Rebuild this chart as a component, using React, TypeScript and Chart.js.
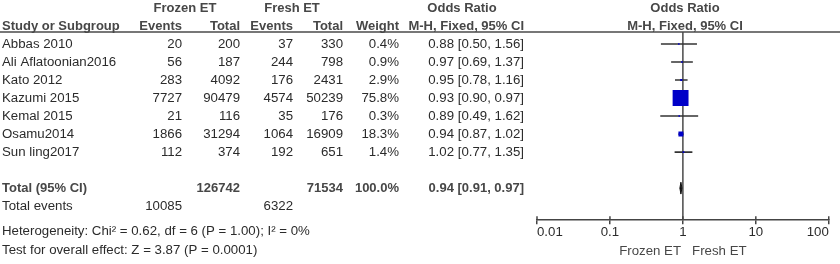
import React, { useEffect, useRef } from "react";
import { Chart, registerables } from "chart.js";

Chart.register(...registerables);

const studies = ["Abbas 2010", "Ali Aflatoonian2016", "Kato 2012", "Kazumi 2015", "Kemal 2015", "Osamu2014", "Sun ling2017"];
const frozenEvents = [20, 56, 283, 7727, 21, 1866, 112];
const frozenTotal = [200, 187, 4092, 90479, 116, 31294, 374];
const freshEvents = [37, 244, 176, 4574, 35, 1064, 192];
const freshTotal = [330, 798, 2431, 50239, 176, 16909, 651];
const weights = [0.4, 0.9, 2.9, 75.8, 0.3, 18.3, 1.4];
const oddsRatio = [0.88, 0.97, 0.95, 0.93, 0.89, 0.94, 1.02];
const ciLow = [0.5, 0.69, 0.78, 0.9, 0.49, 0.87, 0.77];
const ciHigh = [1.56, 1.37, 1.16, 0.97, 1.62, 1.02, 1.35];

const totalFrozen = 126742;
const totalFresh = 71534;
const totalWeight = "100.0%";
const totalOR = 0.94;
const totalLow = 0.91;
const totalHigh = 0.97;
const totalFrozenEvents = 10085;
const totalFreshEvents = 6322;
const heterogeneityText = "Heterogeneity: Chi² = 0.62, df = 6 (P = 1.00); I² = 0%";
const overallText = "Test for overall effect: Z = 3.87 (P = 0.0001)";
const axisTicks = [0.01, 0.1, 1, 10, 100];
const axisTitle = "Frozen ET   Fresh ET";

const FONT = '"Liberation Sans", Arial, sans-serif';
const TXT = "#2b2b2b";
const HDR = "#474747";
const SIZE = 13.25;

const Y_MIN = -0.667;
const Y_MAX = 9.78;
const TOTAL_ROW = 8;

const fmt2 = (v: number) => v.toFixed(2);
const ciText = (o: number, l: number, h: number) => `${fmt2(o)} [${fmt2(l)}, ${fmt2(h)}]`;

const tablePlugin = {
  id: "forestTable",
  afterDraw(chart: any) {
    const ctx = chart.ctx as CanvasRenderingContext2D;
    const y = chart.scales.y;
    const x = chart.scales.x;
    const py = (r: number) => y.getPixelForValue(r);
    ctx.save();
    ctx.textBaseline = "middle";
    const put = (s: string, px: number, r: number, align: CanvasTextAlign, bold = false, color = TXT) => {
      ctx.font = `${bold ? "bold " : ""}${bold ? 13 : SIZE}px ${FONT}`;
      ctx.fillStyle = color;
      ctx.textAlign = align;
      ctx.fillText(s, px, py(r));
    };
    // headers
    put("Frozen ET", 185, -2, "center", true, HDR);
    put("Fresh ET", 292, -2, "center", true, HDR);
    put("Odds Ratio", 462, -2, "center", true, HDR);
    put("Odds Ratio", 685, -2, "center", true, HDR);
    put("Study or Subgroup", 2, -1, "left", true, HDR);
    put("Events", 182, -1, "right", true, HDR);
    put("Total", 240, -1, "right", true, HDR);
    put("Events", 293, -1, "right", true, HDR);
    put("Total", 343, -1, "right", true, HDR);
    put("Weight", 399, -1, "right", true, HDR);
    put("M-H, Fixed, 95% CI", 524, -1, "right", true, HDR);
    put("M-H, Fixed, 95% CI", 685, -1, "center", true, HDR);
    // header rule
    ctx.strokeStyle = "#4a4a4a";
    ctx.lineWidth = 1.5;
    ctx.beginPath();
    ctx.moveTo(0, py(Y_MIN));
    ctx.lineTo(840, py(Y_MIN));
    ctx.stroke();
    // rows
    studies.forEach((s, i) => {
      put(s, 2, i, "left");
      put(String(frozenEvents[i]), 182, i, "right");
      put(String(frozenTotal[i]), 240, i, "right");
      put(String(freshEvents[i]), 293, i, "right");
      put(String(freshTotal[i]), 343, i, "right");
      put(weights[i].toFixed(1) + "%", 399, i, "right");
      put(ciText(oddsRatio[i], ciLow[i], ciHigh[i]), 524, i, "right");
    });
    put("Total (95% CI)", 2, TOTAL_ROW, "left", true, HDR);
    put(String(totalFrozen), 240, TOTAL_ROW, "right", true, HDR);
    put(String(totalFresh), 343, TOTAL_ROW, "right", true, HDR);
    put(totalWeight, 399, TOTAL_ROW, "right", true, HDR);
    put(ciText(totalOR, totalLow, totalHigh), 524, TOTAL_ROW, "right", true, HDR);
    put("Total events", 2, TOTAL_ROW + 1, "left");
    put(String(totalFrozenEvents), 182, TOTAL_ROW + 1, "right");
    put(String(totalFreshEvents), 293, TOTAL_ROW + 1, "right");
    put(heterogeneityText, 2, TOTAL_ROW + 2.4, "left");
    put(overallText, 2, TOTAL_ROW + 3.45, "left");
    // upper half of axis tick marks
    const base = chart.chartArea.bottom;
    ctx.strokeStyle = "#444";
    ctx.lineWidth = 1.5;
    axisTicks.forEach((t) => {
      const px = x.getPixelForValue(t);
      ctx.beginPath();
      ctx.moveTo(px, base - 4);
      ctx.lineTo(px, base);
      ctx.stroke();
    });
    ctx.restore();
  },
};

export default function App() {
  const ref = useRef<HTMLCanvasElement>(null);
  useEffect(() => {
    document.body.style.margin = "0";
    const boxSide = weights.map((w) => 1.5 + 0.19 * w);
    const datasets: any[] = [
      {
        type: "scatter",
        data: studies.map((_, i) => ({ x: oddsRatio[i], y: i })),
        pointStyle: "rect",
        pointRadius: boxSide.map((s) => s / Math.SQRT2),
        pointBorderWidth: 0,
        backgroundColor: "#0000c8",
        borderColor: "#0000c8",
        order: 0,
      },
      ...studies.map((_, i) => ({
        type: "line",
        data: [
          { x: ciLow[i], y: i },
          { x: ciHigh[i], y: i },
        ],
        borderColor: "#333",
        borderWidth: 1.6,
        pointRadius: 0,
        fill: false,
        order: 2,
      })),
      {
        type: "line",
        data: [
          { x: totalLow, y: TOTAL_ROW },
          { x: totalOR, y: TOTAL_ROW - 0.33 },
          { x: totalHigh, y: TOTAL_ROW },
          { x: totalOR, y: TOTAL_ROW + 0.33 },
          { x: totalLow, y: TOTAL_ROW },
        ],
        borderColor: "#111",
        backgroundColor: "#111",
        borderWidth: 1,
        pointRadius: 0,
        fill: "shape",
        tension: 0,
        order: 1,
      },
      {
        type: "line",
        data: [
          { x: 1, y: Y_MIN },
          { x: 1, y: Y_MAX },
        ],
        borderColor: "#555",
        borderWidth: 1.6,
        pointRadius: 0,
        fill: false,
        order: 3,
      },
    ];
    const chart = new Chart(ref.current!, {
      type: "scatter",
      data: { datasets },
      options: {
        responsive: false,
        animation: false,
        layout: { padding: { left: 537, right: 10, top: 32, bottom: 5 } },
        plugins: { legend: { display: false }, tooltip: { enabled: false } },
        scales: {
          x: {
            type: "logarithmic",
            min: 0.01,
            max: 100,
            afterBuildTicks: (scale: any) => {
              scale.ticks = axisTicks.map((v) => ({ value: v }));
            },
            border: { display: true, color: "#444", width: 1.5 },
            grid: { display: true, drawOnChartArea: false, drawTicks: true, tickLength: 4, color: "#444", lineWidth: 1.5 },
            ticks: {
              autoSkip: false,
              maxRotation: 0,
              align: "inner",
              padding: 0,
              color: TXT,
              font: { family: FONT, size: SIZE },
              callback: (v: any) => String(v),
            },
            title: {
              display: true,
              text: axisTitle,
              color: HDR,
              font: { family: FONT, size: SIZE },
              padding: { top: 3, bottom: 0 },
            },
          },
          y: { type: "linear", min: Y_MIN, max: Y_MAX, reverse: true, display: false },
        },
      },
      plugins: [tablePlugin],
    } as any);
    return () => chart.destroy();
  }, []);
  return (
    <div style={{ width: 840, height: 264, background: "#fff" }}>
      <canvas ref={ref} width={840} height={264} style={{ display: "block" }} />
    </div>
  );
}
